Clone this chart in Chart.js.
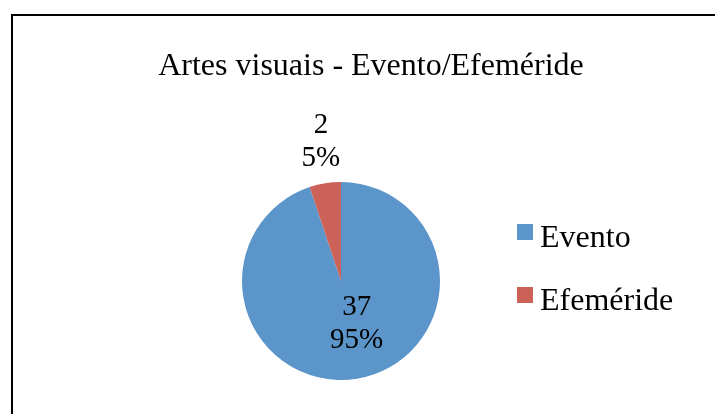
<!DOCTYPE html>
<html>
<head>
<meta charset="utf-8">
<script src="https://cdn.jsdelivr.net/npm/chart.js@4"></script>
<style>
html,body{margin:0;padding:0;background:#fff;width:715px;height:414px;overflow:hidden;position:relative;}
#frame{position:absolute;left:11px;top:14px;width:800px;height:500px;border:2px solid #000;box-sizing:border-box;}
canvas{position:absolute;left:0;top:0;}
</style>
</head>
<body>
<div id="frame"></div>
<canvas id="c" width="715" height="414"></canvas>
<script>
const chartTitle = "Artes visuais - Evento/Efeméride";
const categories = ["Evento", "Efeméride"];
const values = [37, 2];
const colors = ["#5B95C9", "#CC6158"];

const FONT = "'Liberation Serif', 'Times New Roman', serif";

const overlay = {
  id: 'overlay',
  afterDraw(chart) {
    const ctx = chart.ctx;
    ctx.save();
    ctx.fillStyle = '#000';
    // title
    ctx.font = `32px ${FONT}`;
    ctx.textAlign = 'center';
    ctx.textBaseline = 'alphabetic';
    ctx.fillText(chartTitle, 371, 75);
    // legend
    ctx.textAlign = 'left';
    categories.forEach((cat, i) => {
      const y = 224 + i * 63;
      ctx.fillStyle = colors[i];
      ctx.fillRect(517, y, 16, 16);
      ctx.fillStyle = '#000';
      ctx.fillText(cat, 540, y + 23);
    });
    // data labels
    const total = values.reduce((a, b) => a + b, 0);
    const meta = chart.getDatasetMeta(0);
    ctx.font = `29px ${FONT}`;
    ctx.textAlign = 'center';
    meta.data.forEach((arc, i) => {
      const p = arc.getProps(['x','y','startAngle','endAngle','outerRadius'], true);
      const mid = (p.startAngle + p.endAngle) / 2;
      const pct = Math.round(values[i] / total * 100) + '%';
      let cx, cy;
      if (values[i] / total > 0.5) {
        const d = p.outerRadius * 0.42;
        cx = p.x + Math.cos(mid) * d + 9;
        cy = p.y + Math.sin(mid) * d - 1;
      } else {
        const d = p.outerRadius + 45;
        cx = p.x + Math.cos(mid) * d + 3;
        cy = p.y + Math.sin(mid) * d;
      }
      ctx.fillText(String(values[i]), cx, cy - 6);
      ctx.fillText(pct, cx, cy + 27);
    });
    ctx.restore();
  }
};

new Chart(document.getElementById('c'), {
  type: 'pie',
  data: {
    labels: categories,
    datasets: [{
      data: values,
      backgroundColor: colors,
      borderWidth: 0
    }]
  },
  options: {
    responsive: false,
    animation: false,
    layout: { padding: { left: 242, right: 275, top: 182, bottom: 34 } },
    plugins: {
      legend: { display: false },
      title: { display: false },
      tooltip: { enabled: false }
    }
  },
  plugins: [overlay]
});
</script>
</body>
</html>
